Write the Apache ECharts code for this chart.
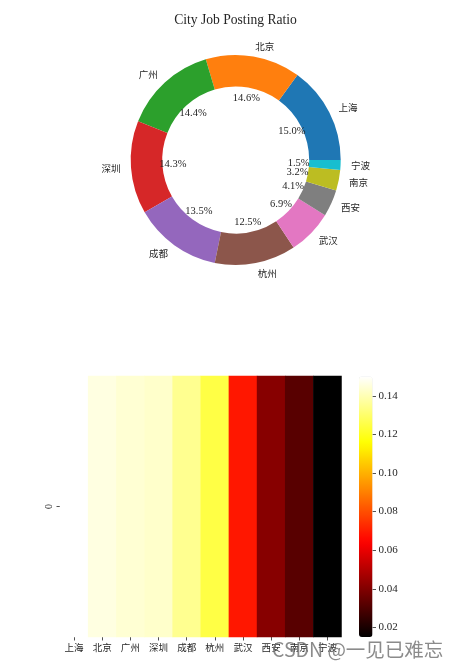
<!DOCTYPE html>
<html>
<head>
<meta charset="utf-8">
<script src="https://cdn.jsdelivr.net/npm/echarts@6/dist/echarts.min.js"></script>
<style>
    html, body { margin: 0; padding: 0; background: #fff; }
    #main { width: 459px; height: 670px; }
</style>
</head>
<body>
<div id="main"></div>
<script type="text/javascript">
var cities = ['上海','北京','广州','深圳','成都','杭州','武汉','西安','南京','宁波'];
var ratios = [0.150,0.146,0.144,0.143,0.135,0.125,0.069,0.041,0.032,0.015];
var sliceColors = ['#1f77b4','#ff7f0e','#2ca02c','#d62728','#9467bd','#8c564b','#e377c2','#7f7f7f','#bcbd22','#17becf'];
var colorbarTicks = [0.02,0.04,0.06,0.08,0.10,0.12,0.14];
var rowLabels = ['0'];

var serif = '"Liberation Serif", serif';
var cjk = '"Noto Sans CJK SC", sans-serif';
var inkColor = '#262626';

(function(){
    var myChart = echarts.init(document.getElementById('main'));

    // "hot" colour ramp, black at the bottom as in the picture
    function clamp(v) { return Math.max(0, Math.min(1, v)); }
    var hotColors = [];
    for (var i = 0; i <= 40; i++) {
        var t = i / 40;
        var r = clamp(t / 0.365);
        var g = clamp((t - 0.365) / 0.381);
        var b = clamp((t - 0.746) / 0.254);
        hotColors.push('rgb(' + Math.round(r * 255) + ',' + Math.round(g * 255) + ',' + Math.round(b * 255) + ')');
    }

    var pieData = cities.map(function (name, i) {
        return { name: name, value: ratios[i], itemStyle: { color: sliceColors[i] } };
    });
    var heatData = ratios.map(function (v, i) { return [i, 0, v]; });
    var tickStyle = { color: inkColor, width: 0.8 };
    var hiddenLine = { show: true, onZero: false, lineStyle: { color: 'rgba(0,0,0,0)' } };

    var option = {
        animation: false,
        backgroundColor: '#fff',
        title: {
            text: 'City Job Posting Ratio',
            left: 230.5,
            top: 8,
            textAlign: 'center',
            textStyle: { fontFamily: serif, fontSize: 13.6, fontWeight: 'normal', color: inkColor }
        },
        grid: [
            { left: 60, top: 376, width: 281.5, height: 261 },
            { left: 359, top: 376.5, width: 13.5, height: 260.5 }
        ],
        xAxis: [
            {
                type: 'category',
                gridIndex: 0,
                data: cities,
                axisLine: hiddenLine,
                axisTick: { show: true, alignWithLabel: true, length: 3.5, lineStyle: tickStyle },
                axisLabel: { interval: 0, margin: 5.5, fontFamily: cjk, fontSize: 9.5, color: inkColor }
            },
            { type: 'value', gridIndex: 1, show: false }
        ],
        yAxis: [
            {
                type: 'category',
                gridIndex: 0,
                data: rowLabels,
                axisLine: hiddenLine,
                axisTick: { show: true, alignWithLabel: true, length: 3.5, lineStyle: tickStyle },
                axisLabel: { rotate: 90, margin: 6, fontFamily: serif, fontSize: 10, color: inkColor }
            },
            {
                type: 'value',
                gridIndex: 1,
                position: 'right',
                min: 0.015,
                max: 0.15,
                splitLine: { show: false },
                axisLine: hiddenLine,
                axisTick: { show: true, length: 3.5, customValues: colorbarTicks, lineStyle: tickStyle },
                axisLabel: {
                    margin: 6,
                    customValues: colorbarTicks,
                    fontFamily: serif,
                    fontSize: 11,
                    color: inkColor,
                    formatter: function (v) { return v.toFixed(2); }
                }
            }
        ],
        visualMap: {
            type: 'continuous',
            seriesIndex: 2,
            min: 0.015,
            max: 0.15,
            dimension: 2,
            left: 359,
            top: 376.5,
            itemWidth: 13.5,
            itemHeight: 260.5,
            padding: 0,
            text: null,
            calculable: false,
            hoverLink: false,
            inRange: { color: hotColors }
        },
        series: [
            {
                // ring with city names outside
                type: 'pie',
                center: [235.7, 160],
                radius: [73.5, 105],
                startAngle: 0,
                clockwise: false,
                avoidLabelOverlap: false,
                silent: true,
                data: pieData,
                label: {
                    position: 'outside',
                    distanceToLabelLine: 0,
                    fontFamily: cjk,
                    fontSize: 9.5,
                    color: inkColor
                },
                labelLine: { show: false, length: 10.5, length2: 0 }
            },
            {
                // clear ring, only there to carry the percents
                type: 'pie',
                center: [235.7, 160],
                radius: [50, 70],
                startAngle: 0,
                clockwise: false,
                avoidLabelOverlap: false,
                silent: true,
                z: 3,
                itemStyle: { color: 'rgba(0,0,0,0)' },
                labelLayout: { hideOverlap: false },
                data: cities.map(function (name, i) { return { name: name, value: ratios[i] }; }),
                label: {
                    position: 'inside',
                    fontFamily: serif,
                    fontSize: 10.5,
                    color: inkColor,
                    formatter: function (p) { return (p.value * 100).toFixed(1) + '%'; }
                },
                labelLine: { show: false }
            },
            {
                type: 'heatmap',
                xAxisIndex: 0,
                yAxisIndex: 0,
                silent: true,
                data: heatData
            },
            // keeps the colorbar grid's axes alive
            {
                type: 'scatter',
                xAxisIndex: 1,
                yAxisIndex: 1,
                silent: true,
                symbolSize: 0,
                data: []
            }
        ],
        graphic: [
            {
                type: 'text',
                left: 272,
                top: 640,
                z: 100,
                silent: true,
                style: {
                    text: 'CSDN @一见已难忘',
                    fontFamily: cjk,
                    fontSize: 19.5,
                    fill: 'rgba(110,110,110,0.8)'
                }
            }
        ]
    };

    myChart.setOption(option);
})();
</script>
</body>
</html>
